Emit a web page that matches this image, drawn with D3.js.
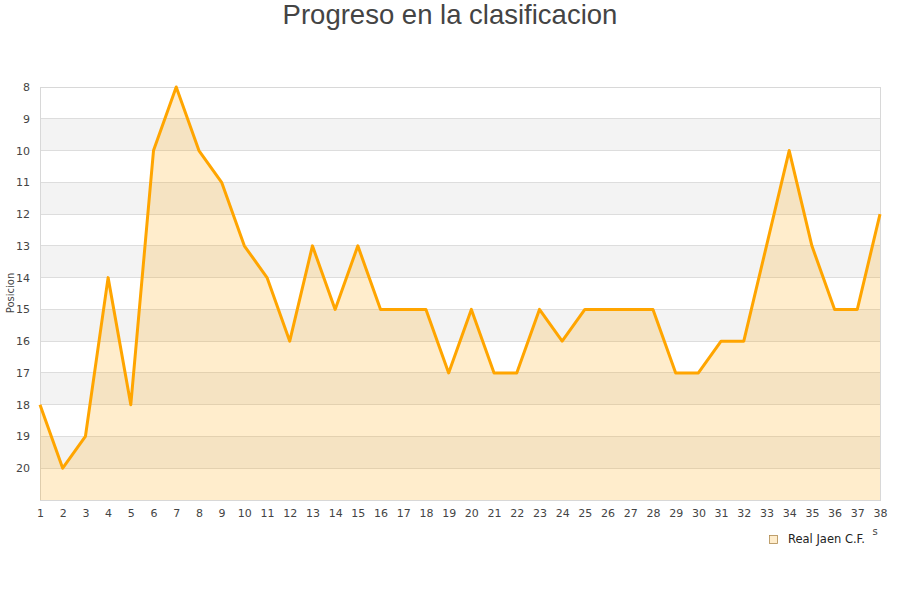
<!DOCTYPE html>
<html><head><meta charset="utf-8">
<script src="https://cdn.jsdelivr.net/npm/d3@7/dist/d3.min.js"></script>
<style>body{margin:0;background:#fff}svg{display:block}</style>
</head><body><svg id="c" width="900" height="600"></svg>
<script>
const jornadas = d3.range(1, 39);
const posiciones = [18,20,19,14,18,10,8,10,11,13,14,16,13,15,13,15,15,15,17,15,17,17,15,16,15,15,15,15,17,17,16,16,13,10,13,15,15,12];
const yTicks = [8,9,10,11,12,13,14,15,16,17,18,19,20];
const titleText = "Progreso en la clasificacion";
const yTitle = "Posicion";
const seriesName = "Real Jaen C.F.";

const svg = d3.select("#c");
const L = 40, R = 880, T = 87, B = 500;
const x = d3.scaleLinear().domain([1, 38]).range([L, R]);
const y = d3.scaleLinear().domain([8, 21]).range([T, B]);

// bands
const bandStarts = d3.range(8, 21);
svg.append("g").selectAll("rect").data(bandStarts).join("rect")
  .attr("x", L).attr("width", R - L)
  .attr("y", d => y(d)).attr("height", d => y(d + 1) - y(d))
  .attr("fill", d => d % 2 === 1 ? "#f3f3f3" : "#ffffff");

// gridlines
svg.append("g").selectAll("line").data(yTicks.slice(1)).join("line")
  .attr("x1", L).attr("x2", R).attr("y1", d => y(d)).attr("y2", d => y(d))
  .attr("stroke", "#dddddd").attr("stroke-width", 1).attr("shape-rendering", "crispEdges");

// border
svg.append("rect").attr("x", L).attr("y", T).attr("width", R - L).attr("height", B - T)
  .attr("fill", "none").attr("stroke", "#d8d8d8").attr("shape-rendering", "crispEdges");

const pts = jornadas.map((j, i) => [j, posiciones[i]]);
svg.append("path").datum(pts)
  .attr("d", d3.area().x(d => x(d[0])).y0(B).y1(d => y(d[1])))
  .attr("fill", "rgba(255,165,0,0.2)");
svg.append("path").datum(pts)
  .attr("d", d3.line().x(d => x(d[0])).y(d => y(d[1])))
  .attr("fill", "none").attr("stroke", "#ffa500").attr("stroke-width", 3)
  .attr("stroke-linejoin", "round");

// axes
const yAxis = d3.axisLeft(y).tickValues(yTicks).tickSize(0).tickPadding(10);
const gy = svg.append("g").attr("transform", `translate(${L},0)`).call(yAxis);
gy.select(".domain").remove();
gy.selectAll("text").attr("font-family", "DejaVu Sans").attr("font-size", 11).attr("fill", "#444");

const xAxis = d3.axisBottom(x).tickValues(jornadas).tickSize(0).tickPadding(9);
const gx = svg.append("g").attr("transform", `translate(0,${B})`).call(xAxis);
gx.select(".domain").remove();
gx.selectAll("text").attr("font-family", "DejaVu Sans").attr("font-size", 11).attr("fill", "#444");

svg.append("text").attr("x", 450).attr("y", 24).attr("text-anchor", "middle")
  .attr("font-family", "Liberation Sans, Arial, sans-serif").attr("font-size", 27.5).attr("fill", "#444")
  .text(titleText);

svg.append("text").attr("transform", "translate(14,293) rotate(-90)").attr("text-anchor", "middle")
  .attr("font-family", "DejaVu Sans").attr("font-size", 10).attr("fill", "#444").text(yTitle);

// clipped x-axis title remnants
svg.append("text").attr("x", 875).attr("y", 535).attr("text-anchor", "middle")
  .attr("font-family", "DejaVu Sans").attr("font-size", 10).attr("fill", "#444").text("s");

// legend
svg.append("rect").attr("x", 769.5).attr("y", 535.5).attr("width", 8).attr("height", 8)
  .attr("fill", "#ffedcc").attr("stroke", "#b08a50").attr("stroke-width", 0.8);
svg.append("text").attr("x", 788).attr("y", 543)
  .attr("font-family", "DejaVu Sans").attr("font-size", 11.5).attr("fill", "#222").text(seriesName);
</script></body></html>
